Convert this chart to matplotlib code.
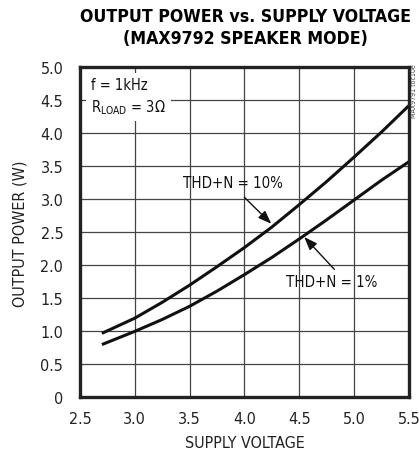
import matplotlib.pyplot as plt

# values
supply_v = [2.7, 3.0, 3.25, 3.5, 3.75, 4.0, 4.25, 4.5, 4.75, 5.0, 5.25, 5.5]
power_thd10 = [0.97, 1.20, 1.44, 1.70, 1.98, 2.27, 2.58, 2.92, 3.27, 3.64, 4.02, 4.42]
power_thd1 = [0.80, 1.00, 1.18, 1.38, 1.61, 1.86, 2.12, 2.40, 2.69, 2.99, 3.29, 3.57]

x_ticks = [2.5, 3.0, 3.5, 4.0, 4.5, 5.0, 5.5]
x_labels = ["2.5", "3.0", "3.5", "4.0", "4.5", "5.0", "5.5"]
y_ticks = [0, 0.5, 1.0, 1.5, 2.0, 2.5, 3.0, 3.5, 4.0, 4.5, 5.0]
y_labels = ["0", "0.5", "1.0", "1.5", "2.0", "2.5", "3.0", "3.5", "4.0", "4.5", "5.0"]

plt.rcParams['font.family'] = ['DejaVu Sans']
plt.rcParams['font.stretch'] = 'condensed'
plt.rcParams['mathtext.fontset'] = 'dejavusans'

fig = plt.figure(figsize=(4.19, 4.60), dpi=100)
ax = fig.add_axes([0.1909, 0.134, 0.785, 0.7174])

ax.plot(supply_v, power_thd10, color="#111111", lw=2.2, solid_capstyle="butt")
ax.plot(supply_v, power_thd1, color="#111111", lw=2.2, solid_capstyle="butt")

ax.set_xlim(2.5, 5.5)
ax.set_ylim(0, 5.0)
ax.set_xticks(x_ticks)
ax.set_xticklabels(x_labels)
ax.set_yticks(y_ticks)
ax.set_yticklabels(y_labels)
ax.tick_params(length=0, labelsize=11.5, colors="#222222")
ax.tick_params(axis="x", pad=10)
ax.tick_params(axis="y", pad=12)
ax.grid(True, color="#444444", lw=0.9)

for s in ax.spines.values():
    s.set_linewidth(2.4)
    s.set_color("#222222")

ax.set_xlabel("SUPPLY VOLTAGE", fontsize=11.5, labelpad=6, color="#222222")
ax.set_ylabel("OUTPUT POWER (W)", fontsize=11.5, labelpad=9, color="#222222")

fig.text(0.585, 0.982, "OUTPUT POWER vs. SUPPLY VOLTAGE\n(MAX9792 SPEAKER MODE)",
         ha="center", va="top", fontsize=12.7, fontweight="bold", linespacing=1.3)

ax.text(2.6, 4.86, "f = 1kHz\nR$_{\\mathregular{LOAD}}$ = 3$\\Omega$", ha="left", va="top",
        fontsize=10.5, linespacing=1.4, color="#111111",
        bbox=dict(facecolor="white", edgecolor="none", pad=3.5))

arrow = dict(arrowstyle="-|>,head_length=0.8,head_width=0.3",
             color="#111111", lw=1.0, shrinkA=0, shrinkB=0)

ax.text(3.895, 3.25, "THD+N = 10%", ha="center", va="center", fontsize=10.8, color="#111111")
ax.annotate("", xy=(4.245, 2.63), xytext=(4.0, 3.03), arrowprops=arrow)

ax.text(4.795, 1.75, "THD+N = 1%", ha="center", va="center", fontsize=10.8, color="#111111")
ax.annotate("", xy=(4.545, 2.43), xytext=(4.82, 1.94), arrowprops=arrow)

fig.text(0.988, 0.86, "MAX9791 toc10e", rotation=90, ha="center", va="top",
         fontsize=5, color="#444444")

fig.savefig("out.png", dpi=100)
